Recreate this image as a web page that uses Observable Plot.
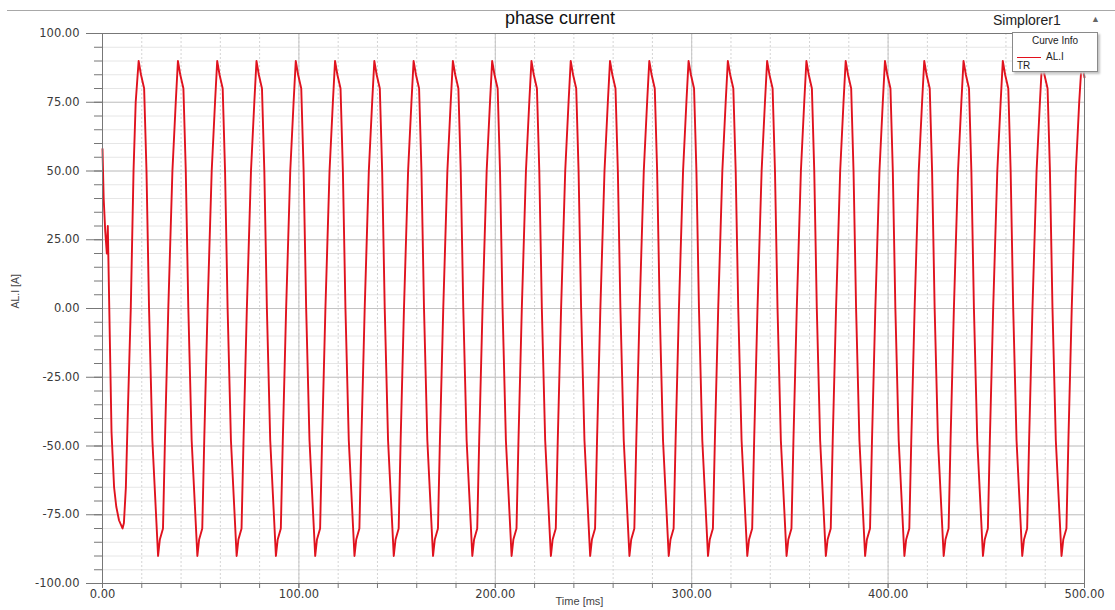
<!DOCTYPE html>
<html>
<head>
<meta charset="utf-8">
<script src="https://cdn.jsdelivr.net/npm/d3@7"></script>
<script src="https://cdn.jsdelivr.net/npm/@observablehq/plot@0.6"></script>
<style>
  body { margin: 0; background: #fff; font-family: "Liberation Sans", Arial, sans-serif; }
  #wrap { position: relative; width: 1115px; height: 610px; overflow: hidden; }
  #topline { position: absolute; left: 7px; right: 0; top: 10px; border-top: 1px solid #a8a8a8; }
  #title { position: absolute; left: 0; width: 1120px; top: 8px; text-align: center; font-size: 18px; color: #111; }
  #sim { position: absolute; left: 993px; top: 12px; font-size: 14px; color: #222; }
  #arrow { position: absolute; left: 1091px; top: 14px; font-size: 9px; color: #666; }
  #legend { position: absolute; left: 1012px; top: 32px; width: 84px; height: 38px; border: 1px solid #8a8a8a;
            background: #fff; box-shadow: 2px 2px 2px #c4c4c4; font-size: 10px; color: #222; }
  #legend .hd { position: absolute; left: 0; width: 84px; top: 2px; text-align: center; }
  #legend .ln { position: absolute; left: 4px; top: 24px; width: 24px; height: 1px; background: #e3101c; }
  #legend .nm { position: absolute; left: 33px; top: 18px; }
  #legend .tr { position: absolute; left: 4px; top: 27px; font-size: 10px; }
  svg { position: absolute; left: 0; top: 0; }
</style>
</head>
<body>
<div id="wrap">
  <div id="topline"></div>
  <div id="title">phase current</div>
  <div id="sim">Simplorer1</div>
  <div id="arrow">▲</div>
</div>
<script>
// ---- data ----
const timeMs = [
  0, 0.6, 1.4, 2.2, 2.7, 3.4, 4.6, 5.9, 7.0, 8.4, 10.2, 10.9, 11.9, 13.0, 14.4, 15.8, 16.9,
  18.4, 19.6, 21.2, 22.4, 23.7, 25.4, 28.3, 29.2, 30.8, 31.8, 33.5, 35.6, 37.3,
  38.4, 39.6, 41.2, 42.4, 43.7, 45.4, 48.3, 49.2, 50.8, 51.8, 53.5, 55.6, 57.3,
  58.4, 59.6, 61.2, 62.4, 63.7, 65.4, 68.3, 69.2, 70.8, 71.8, 73.5, 75.6, 77.3,
  78.4, 79.6, 81.2, 82.4, 83.7, 85.4, 88.3, 89.2, 90.8, 91.8, 93.5, 95.6, 97.3,
  98.4, 99.6, 101.2, 102.4, 103.7, 105.4, 108.3, 109.2, 110.8, 111.8, 113.5, 115.6, 117.3,
  118.4, 119.6, 121.2, 122.4, 123.7, 125.4, 128.3, 129.2, 130.8, 131.8, 133.5, 135.6, 137.3,
  138.4, 139.6, 141.2, 142.4, 143.7, 145.4, 148.3, 149.2, 150.8, 151.8, 153.5, 155.6, 157.3,
  158.4, 159.6, 161.2, 162.4, 163.7, 165.4, 168.3, 169.2, 170.8, 171.8, 173.5, 175.6, 177.3,
  178.4, 179.6, 181.2, 182.4, 183.7, 185.4, 188.3, 189.2, 190.8, 191.8, 193.5, 195.6, 197.3,
  198.4, 199.6, 201.2, 202.4, 203.7, 205.4, 208.3, 209.2, 210.8, 211.8, 213.5, 215.6, 217.3,
  218.4, 219.6, 221.2, 222.4, 223.7, 225.4, 228.3, 229.2, 230.8, 231.8, 233.5, 235.6, 237.3,
  238.4, 239.6, 241.2, 242.4, 243.7, 245.4, 248.3, 249.2, 250.8, 251.8, 253.5, 255.6, 257.3,
  258.4, 259.6, 261.2, 262.4, 263.7, 265.4, 268.3, 269.2, 270.8, 271.8, 273.5, 275.6, 277.3,
  278.4, 279.6, 281.2, 282.4, 283.7, 285.4, 288.3, 289.2, 290.8, 291.8, 293.5, 295.6, 297.3,
  298.4, 299.6, 301.2, 302.4, 303.7, 305.4, 308.3, 309.2, 310.8, 311.8, 313.5, 315.6, 317.3,
  318.4, 319.6, 321.2, 322.4, 323.7, 325.4, 328.3, 329.2, 330.8, 331.8, 333.5, 335.6, 337.3,
  338.4, 339.6, 341.2, 342.4, 343.7, 345.4, 348.3, 349.2, 350.8, 351.8, 353.5, 355.6, 357.3,
  358.4, 359.6, 361.2, 362.4, 363.7, 365.4, 368.3, 369.2, 370.8, 371.8, 373.5, 375.6, 377.3,
  378.4, 379.6, 381.2, 382.4, 383.7, 385.4, 388.3, 389.2, 390.8, 391.8, 393.5, 395.6, 397.3,
  398.4, 399.6, 401.2, 402.4, 403.7, 405.4, 408.3, 409.2, 410.8, 411.8, 413.5, 415.6, 417.3,
  418.4, 419.6, 421.2, 422.4, 423.7, 425.4, 428.3, 429.2, 430.8, 431.8, 433.5, 435.6, 437.3,
  438.4, 439.6, 441.2, 442.4, 443.7, 445.4, 448.3, 449.2, 450.8, 451.8, 453.5, 455.6, 457.3,
  458.4, 459.6, 461.2, 462.4, 463.7, 465.4, 468.3, 469.2, 470.8, 471.8, 473.5, 475.6, 477.3,
  478.4, 479.6, 481.2, 482.4, 483.7, 485.4, 488.3, 489.2, 490.8, 491.8, 493.5, 495.6, 497.3,
  498.6, 499.6, 500
];
const currentA = [
  58, 40, 28, 20, 30, 2, -45, -65, -72, -77, -80, -78, -65, -35, 0, 50, 75,
  90, 85, 80, 50, 0, -48, -90, -84, -80, -48, 0, 50, 75,
  90, 85, 80, 50, 0, -48, -90, -84, -80, -48, 0, 50, 75,
  90, 85, 80, 50, 0, -48, -90, -84, -80, -48, 0, 50, 75,
  90, 85, 80, 50, 0, -48, -90, -84, -80, -48, 0, 50, 75,
  90, 85, 80, 50, 0, -48, -90, -84, -80, -48, 0, 50, 75,
  90, 85, 80, 50, 0, -48, -90, -84, -80, -48, 0, 50, 75,
  90, 85, 80, 50, 0, -48, -90, -84, -80, -48, 0, 50, 75,
  90, 85, 80, 50, 0, -48, -90, -84, -80, -48, 0, 50, 75,
  90, 85, 80, 50, 0, -48, -90, -84, -80, -48, 0, 50, 75,
  90, 85, 80, 50, 0, -48, -90, -84, -80, -48, 0, 50, 75,
  90, 85, 80, 50, 0, -48, -90, -84, -80, -48, 0, 50, 75,
  90, 85, 80, 50, 0, -48, -90, -84, -80, -48, 0, 50, 75,
  90, 85, 80, 50, 0, -48, -90, -84, -80, -48, 0, 50, 75,
  90, 85, 80, 50, 0, -48, -90, -84, -80, -48, 0, 50, 75,
  90, 85, 80, 50, 0, -48, -90, -84, -80, -48, 0, 50, 75,
  90, 85, 80, 50, 0, -48, -90, -84, -80, -48, 0, 50, 75,
  90, 85, 80, 50, 0, -48, -90, -84, -80, -48, 0, 50, 75,
  90, 85, 80, 50, 0, -48, -90, -84, -80, -48, 0, 50, 75,
  90, 85, 80, 50, 0, -48, -90, -84, -80, -48, 0, 50, 75,
  90, 85, 80, 50, 0, -48, -90, -84, -80, -48, 0, 50, 75,
  90, 85, 80, 50, 0, -48, -90, -84, -80, -48, 0, 50, 75,
  90, 85, 80, 50, 0, -48, -90, -84, -80, -48, 0, 50, 75,
  90, 85, 80, 50, 0, -48, -90, -84, -80, -48, 0, 50, 75,
  90, 85, 80, 50, 0, -48, -90, -84, -80, -48, 0, 50, 75,
  90, 86, 84
];
const yMajorTicks = [-100, -75, -50, -25, 0, 25, 50, 75, 100];
const yMinorTicks = [-100, -95, -90, -85, -80, -75, -70, -65, -60, -55, -50, -45, -40, -35, -30, -25, -20, -15, -10, -5,
  0, 5, 10, 15, 20, 25, 30, 35, 40, 45, 50, 55, 60, 65, 70, 75, 80, 85, 90, 95, 100];
const xMajorTicks = [0, 100, 200, 300, 400, 500];
const xMinorTicks = [0, 20, 40, 60, 80, 100, 120, 140, 160, 180, 200, 220, 240, 260, 280, 300, 320, 340, 360, 380,
  400, 420, 440, 460, 480, 500];
const seriesName = "AL.I";
const xTitle = "Time [ms]";
const yTitle = "AL.I [A]";

const data = timeMs.map((t, i) => ({ t, i: currentA[i] }));
const fmt = (d) => d.toFixed(2);

const chart = Plot.plot({
  width: 1115,
  height: 610,
  marginLeft: 102,
  marginRight: 31,
  marginTop: 33,
  marginBottom: 27,
  style: { fontFamily: "DejaVu Sans, Liberation Sans, Arial, sans-serif", fontSize: "11.5px", color: "#3a3a3a", background: "transparent" },
  x: { domain: [0, 500] },
  y: { domain: [-100, 100] },
  marks: [
    Plot.gridY(yMinorTicks, { stroke: "#e6e6e6", strokeOpacity: 1 }),
    Plot.gridX(xMinorTicks, { stroke: "#d4d4d4", strokeOpacity: 1, strokeDasharray: "2,2" }),
    Plot.gridY(yMajorTicks, { stroke: "#c4c4c4", strokeOpacity: 1 }),
    Plot.gridX(xMajorTicks, { stroke: "#c4c4c4", strokeOpacity: 1 }),
    Plot.line(data, { x: "t", y: "i", stroke: "#e0121e", strokeWidth: 1.9 }),
    Plot.frame({ stroke: "#777" }),
    Plot.axisY(yMinorTicks, { tickSize: 8, tickFormat: () => "", label: null, stroke: "#777" }),
    Plot.axisY(yMajorTicks, { tickSize: 16, tickPadding: 7, tickFormat: fmt, label: null, stroke: "#777" }),
    Plot.axisX(xMinorTicks, { tickSize: 5, tickFormat: () => "", label: null, stroke: "#777" }),
    Plot.axisX(xMajorTicks, { tickSize: 5, tickPadding: 1, tickFormat: fmt, label: null, stroke: "#777" }),
    Plot.text([xTitle], { frameAnchor: "bottom", dy: 21, dx: -14, fontSize: 11, fill: "#444", fontFamily: "Liberation Sans, Arial, sans-serif" }),
    Plot.text([yTitle], { frameAnchor: "left", dx: -87, rotate: -90, fontSize: 10.5, fill: "#444", fontFamily: "Liberation Sans, Arial, sans-serif" })
  ]
});

const wrap = document.getElementById("wrap");
wrap.insertBefore(chart, wrap.firstChild);

const legend = document.createElement("div");
legend.id = "legend";
legend.innerHTML = `<div class="hd">Curve Info</div><div class="ln"></div><div class="nm">${seriesName}</div><div class="tr">TR</div>`;
wrap.appendChild(legend);
</script>
</body>
</html>
